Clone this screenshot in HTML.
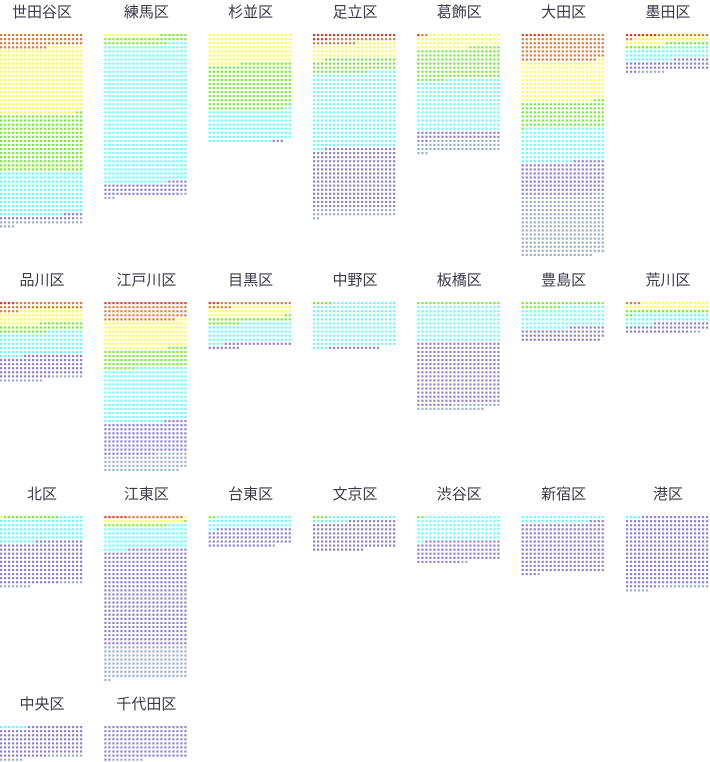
<!DOCTYPE html>
<html><head><meta charset="utf-8">
<style>
html,body{margin:0;padding:0;background:#fff;}
svg{display:block;}
text{font-family:"Liberation Sans","Noto Sans CJK JP",sans-serif;font-size:15px;fill:#3a3a4a;}
</style></head>
<body>
<svg id="chart" width="710" height="762" viewBox="0 0 710 762" xmlns="http://www.w3.org/2000/svg"></svg>
<script>
const wards = ["世田谷区","練馬区","杉並区","足立区","葛飾区","大田区","墨田区","品川区","江戸川区","目黒区","中野区","板橋区","豊島区","荒川区","北区","江東区","台東区","文京区","渋谷区","新宿区","港区","中央区","千代田区"];
const cat1 = [0,0,0,25,1,8,8,4,21,3,0,0,0,0,0,6,0,0,0,0,0,0,0];
const cat2 = [75,0,0,28,2,137,15,43,81,24,0,0,0,4,0,14,0,0,0,0,0,0,0];
const cat3 = [343,14,155,76,73,209,29,68,145,55,0,0,0,38,1,21,0,0,0,0,0,0,0];
const cat4 = [296,44,242,74,162,130,20,44,97,31,5,21,31,23,14,17,2,4,2,0,0,0,0];
const cat5 = [226,714,165,388,266,180,66,120,280,101,230,189,107,47,120,116,63,26,126,38,4,7,0];
const cat6 = [24,66,3,312,45,173,54,112,166,25,13,324,71,51,216,498,98,151,114,260,361,152,170];
const cat7 = [27,5,0,44,63,315,7,19,90,0,0,29,0,3,14,170,1,0,2,1,19,15,8];
const series = [cat1,cat2,cat3,cat4,cat5,cat6,cat7];
const colors = ["#ec3322","#e07a3a","#ffff44","#77ee33","#66ffff","#8f84d4","#9fb0cc"];
const svg = document.getElementById('chart');
const NS = "http://www.w3.org/2000/svg";
const COLS = 21, PX = 4, PY = 4.07, DOT = 2.2;
const panelX = i => (i % 7) * 104.33;
const rowTops = [34, 302, 516, 726];
const panelY = i => rowTops[Math.floor(i / 7)];
wards.forEach((w, i) => {
  const g = document.createElementNS(NS, 'g');
  
  
  const x0 = panelX(i), y0 = panelY(i);
  const t = document.createElementNS(NS, 'text');
  
  
  t.setAttribute('x', x0 + 42);
  t.setAttribute('y', y0 - 17);
  t.setAttribute('text-anchor', 'middle');
  t.textContent = w;
  g.appendChild(t);
  let k = 0;
  series.forEach((s, c) => {
    for (let n = 0; n < s[i]; n++) {
      const r = document.createElementNS(NS, 'rect');
      
      
      r.setAttribute('x', x0 + (k % COLS) * PX);
      r.setAttribute('y', (y0 + Math.floor(k / COLS) * PY).toFixed(2));
      r.setAttribute('width', DOT);
      r.setAttribute('height', DOT);
      r.setAttribute('fill', colors[c]);
      g.appendChild(r);
      k++;
    }
  });
  svg.appendChild(g);
});
</script>
</body></html>
